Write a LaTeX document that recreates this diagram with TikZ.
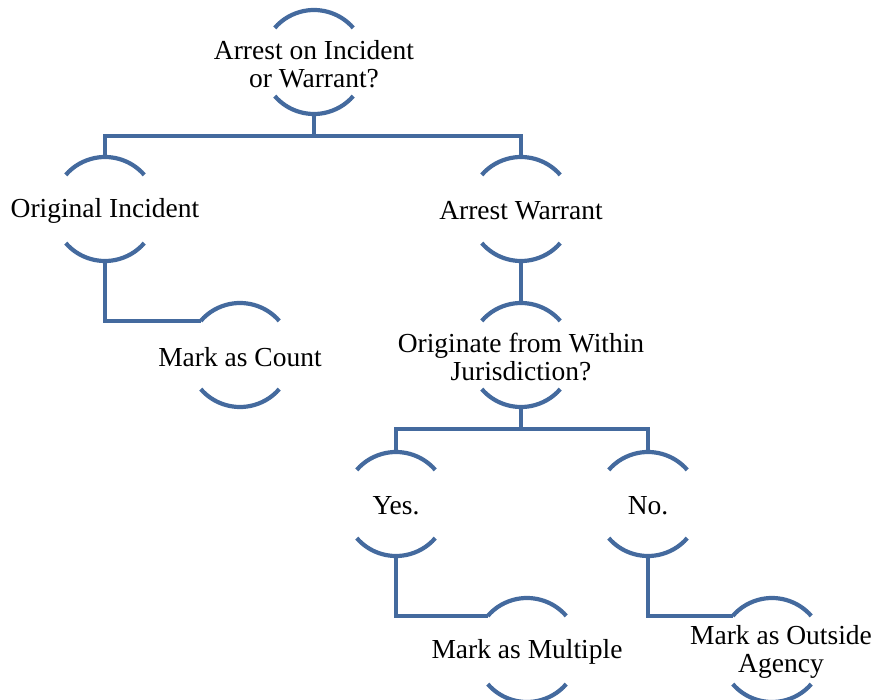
\documentclass[tikz,border=0pt]{standalone}
\usepackage{fontspec}
\setmainfont{Liberation Serif}
\definecolor{hierblue}{RGB}{68,106,158}
\tikzset{
  ring/.style={circle,minimum size=104pt,inner sep=0pt,outer sep=0pt},
  txt/.style={align=center,inner sep=0pt,yshift=-2pt,font=\fontsize{27.5}{28}\selectfont},
  link/.style={draw=hierblue,line width=4.2pt}
}
\begin{document}
\begin{tikzpicture}[x=1pt,y=1pt]
    \useasboundingbox (0,0) rectangle (876,-700);
    %% rings
    \node[ring] (root) at (314,-62) {};
    \node[ring] (orig) at (105,-209) {};
    \node[ring] (warr) at (521,-209) {};
    \node[ring] (count) at (240,-355) {};
    \node[ring] (orgn) at (521,-355) {};
    \node[ring] (yes) at (396,-504) {};
    \node[ring] (no) at (648,-504) {};
    \node[ring] (mult) at (527,-650) {};
    \node[ring] (outs) at (772,-650) {};
    \foreach \n in {root,orig,warr,count,orgn,yes,no,mult,outs}{
      \draw[link] (\n.41) arc[start angle=41,end angle=139,radius=52pt];
      \draw[link] (\n.221) arc[start angle=221,end angle=319,radius=52pt];
    }
    %% texts
    \node[txt] (root-t) at (root) {Arrest on Incident\\or Warrant?};
    \node[txt] (orig-t) at (orig) {Original Incident};
    \node[txt] (warr-t) at (warr) {Arrest Warrant};
    \node[txt] (count-t) at (count) {Mark as Count};
    \node[txt] (orgn-t) at (orgn) {Originate from Within\\Jurisdiction?};
    \node[txt] (yes-t) at (yes) {Yes.};
    \node[txt] (no-t) at (no) {No.};
    \node[txt] (mult-t) at (mult) {Mark as Multiple};
    \node[txt,xshift=9pt] (outs-t) at (outs) {Mark as Outside\\Agency};
    %% connectors
    \coordinate (bus1) at ([yshift=-22pt]root.south);
    \draw[link] (root.south) -- (bus1) -| (orig.north);
    \draw[link] (bus1) -| (warr.north);
    \draw[link] (orig.south) |- (count.139);
    \draw[link] (warr.south) -- (orgn.north);
    \coordinate (bus2) at ([yshift=-22pt]orgn.south);
    \draw[link] (orgn.south) -- (bus2) -| (yes.north);
    \draw[link] (bus2) -| (no.north);
    \draw[link] (yes.south) |- (mult.139);
    \draw[link] (no.south) |- (outs.139);
\end{tikzpicture}
\end{document}
